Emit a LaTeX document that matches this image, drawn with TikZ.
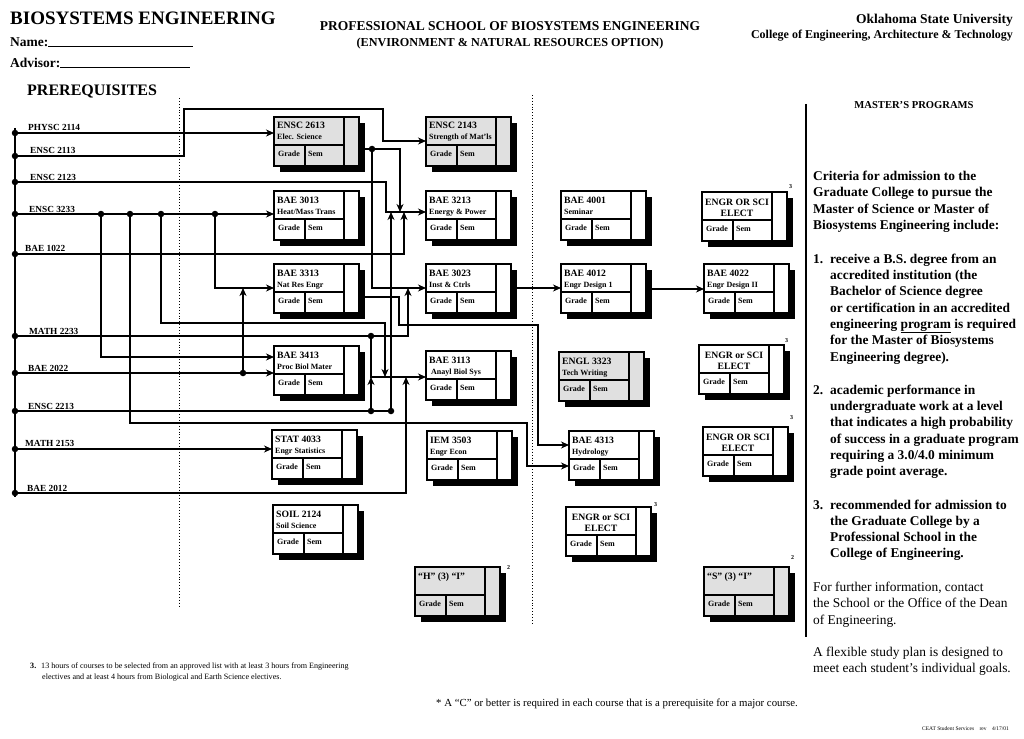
\documentclass[tikz,border=0pt]{standalone}
\usepackage{fontspec}
\setmainfont{Liberation Serif}
\usetikzlibrary{arrows.meta,calc}
\definecolor{boxgray}{gray}{0.88}
\tikzset{
  ln/.style={line width=1.1pt},
  arr/.style={line width=1.1pt,-{Stealth[length=8pt,width=7pt,inset=2.5pt]}},
  dot/.style={circle,fill=black,inner sep=0pt,minimum size=6.5pt,outer sep=0pt},
  cbox/.style={draw,line width=1.2pt,minimum width=85pt,minimum height=49pt,inner sep=0pt,outer sep=0pt},
  inner/.style={line width=1.1pt},
  code/.style={anchor=base west,inner sep=0pt,font=\fontsize{9.7}{11}\selectfont\bfseries},
  subt/.style={anchor=base west,inner sep=0pt,font=\fontsize{8}{9}\selectfont\bfseries},
  lbl/.style={anchor=base west,inner sep=0pt,font=\fontsize{9.3}{11}\selectfont\bfseries},
  rt/.style={anchor=base west,inner sep=0pt,font=\fontsize{13.4}{16}\selectfont\bfseries},
  rr/.style={anchor=base west,inner sep=0pt,font=\fontsize{13.4}{16}\selectfont},
  sup/.style={anchor=base west,inner sep=0pt,font=\fontsize{6}{7}\selectfont\bfseries},
  vdot/.style={line width=0.9pt,dotted}
}
\newcommand\cbFrame[4]{%
  \fill[black] ({#2+6},{#3+6}) rectangle ({#2+91},{#3+55});
  \node[cbox,fill=#4,anchor=north west] (#1) at (#2,#3) {};
  \draw[inner] ({#2+70},#3) -- ({#2+70},{#3+49})
               (#2,{#3+28}) -- ({#2+70},{#3+28})
               ({#2+31},{#3+28}) -- ({#2+31},{#3+49});
  \node[subt] at ({#2+4},{#3+39.5}) {Grade};
  \node[subt] at ({#2+34},{#3+39.5}) {Sem};
}
\newcommand\cbCourse[6]{%
  \cbFrame{#1}{#2}{#3}{#4}
  \node[code] at ({#2+3},{#3+12}) {#5};
  \node[subt] at ({#2+3},{#3+23}) {#6};
}
\newcommand\cbElect[4]{%
  \cbFrame{#1}{#2}{#3}{white}
  \node[code,anchor=base] at ({#2+35},{#3+13}) {#4};
  \node[code,anchor=base] at ({#2+35},{#3+24}) {ELECT};
}
\begin{document}
\begin{tikzpicture}[x=1pt,y=-1pt]
\fill[white] (0,0) rectangle (1024,738);
\useasboundingbox (0,0) rectangle (1024,738);

% ---------- header ----------
\node[anchor=base west,inner sep=0pt,font=\fontsize{19}{22}\selectfont\bfseries] (title) at (10,25) {BIOSYSTEMS ENGINEERING};
\node[anchor=base west,inner sep=0pt,font=\fontsize{13.5}{16}\selectfont\bfseries] (name) at (10,47) {Name:\rule{145pt}{0.9pt}};
\node[anchor=base west,inner sep=0pt,font=\fontsize{13.5}{16}\selectfont\bfseries] (advisor) at (10,68) {Advisor:\rule{130pt}{0.9pt}};
\node[anchor=base west,inner sep=0pt,font=\fontsize{16}{18}\selectfont\bfseries] (prereq) at (27,96) {PREREQUISITES};
\node[anchor=base,inner sep=0pt,font=\fontsize{13.5}{16}\selectfont\bfseries] (school) at (510,31) {PROFESSIONAL SCHOOL OF BIOSYSTEMS ENGINEERING};
\node[anchor=base,inner sep=0pt,font=\fontsize{12.2}{14}\selectfont\bfseries] (option) at (510,47) {(ENVIRONMENT \& NATURAL RESOURCES OPTION)};
\node[anchor=base east,inner sep=0pt,font=\fontsize{13.5}{16}\selectfont\bfseries] (osu) at (1013,24) {Oklahoma State University};
\node[anchor=base east,inner sep=0pt,font=\fontsize{12}{14}\selectfont\bfseries] (ceat) at (1013,39) {College of Engineering, Architecture \& Technology};
\node[anchor=base,inner sep=0pt,font=\fontsize{10.6}{12}\selectfont\bfseries] (masters) at (914,109) {MASTER’S PROGRAMS};

% ---------- separators ----------
\draw[vdot] (179,98) -- (179,608);
\draw[vdot] (532,95) -- (532,625);
\draw[line width=1.5pt] (806,104) -- (806,637);

% ---------- course boxes ----------
\cbCourse{e2613}{274}{117}{boxgray}{ENSC 2613}{Elec. Science}
\cbCourse{e2143}{426}{117}{boxgray}{ENSC 2143}{Strength of Mat’ls}
\cbCourse{b3013}{274}{191}{white}{BAE 3013}{Heat/Mass Trans}
\cbCourse{b3213}{426}{191}{white}{BAE 3213}{Energy \& Power}
\cbCourse{b3313}{274}{264}{white}{BAE 3313}{Nat Res Engr}
\cbCourse{b3023}{426}{264}{white}{BAE 3023}{Inst \& Ctrls}
\cbCourse{b3413}{274}{346}{white}{BAE 3413}{Proc Biol Mater}
\cbCourse{b3113}{426}{351}{white}{BAE 3113}{\ Anayl Biol Sys}
\cbCourse{s4033}{272}{430}{white}{STAT 4033}{Engr Statistics}
\cbCourse{i3503}{427}{431}{white}{IEM 3503}{Engr Econ}
\cbCourse{s2124}{273}{505}{white}{SOIL 2124}{Soil Science}
\cbCourse{hi}{415}{567}{boxgray}{“H” (3) “I”}{}
\cbCourse{b4001}{561}{191}{white}{BAE 4001}{Seminar}
\cbElect{el1}{702}{192}{ENGR OR SCI}
\cbCourse{b4012}{561}{264}{white}{BAE 4012}{Engr Design 1}
\cbCourse{b4022}{704}{264}{white}{BAE 4022}{Engr Design II}
\cbCourse{g3323}{559}{352}{boxgray}{ENGL 3323}{Tech Writing}
\cbElect{el2}{699}{345}{ENGR or SCI}
\cbCourse{b4313}{569}{431}{white}{BAE 4313}{Hydrology}
\cbElect{el3}{703}{427}{ENGR OR SCI}
\cbElect{el4}{566}{507}{ENGR or SCI}
\cbCourse{si}{704}{567}{boxgray}{“S” (3) “I”}{}

\node[sup] at (789,189) {3};
\node[sup] at (785,342) {3};
\node[sup] at (790,419) {3};
\node[sup] at (654,506) {3};
\node[sup] at (507,569) {2};
\node[sup] at (791,559) {2};

% ---------- prerequisite bus ----------
\draw[line width=2pt] (15,128) -- (15,497);
\node[dot] (pPHY) at (15,133) {};
\node[dot] (pE2113) at (15,156) {};
\node[dot] (pE2123) at (15,182) {};
\node[dot] (pE3233) at (15,214) {};
\node[dot] (pB1022) at (15,254) {};
\node[dot] (pM2233) at (15,336) {};
\node[dot] (pB2022) at (15,373) {};
\node[dot] (pE2213) at (15,411) {};
\node[dot] (pM2153) at (15,449) {};
\node[dot] (pB2012) at (15,493) {};

\node[lbl] at (28,131) {PHYSC 2114};
\node[lbl] at (30,154) {ENSC 2113};
\node[lbl] at (30,180) {ENSC 2123};
\node[lbl] at (29,212) {ENSC 3233};
\node[lbl] at (25,251) {BAE 1022};
\node[lbl] at (29,334) {MATH 2233};
\node[lbl] at (28,371) {BAE 2022};
\node[lbl] at (28,409) {ENSC 2213};
\node[lbl] at (25,446) {MATH 2153};
\node[lbl] at (27,491) {BAE 2012};

% ---------- connectors ----------
% PHYSC 2114
\draw[arr] (pPHY.center) -- (pPHY.center -| e2613.west);
% ENSC 2113
\draw[arr] (pE2113.center) -| (184,109) -| (383,141) -- (e2143.west |- 0,141);
% ENSC 2123
\draw[arr] (pE2123.center) -| (386,212) -- (b3213.west |- 0,212);
% ENSC 3233
\draw[arr] (pE3233.center) -- (pE3233.center -| b3013.west);
\node[dot] (d101) at (101,214) {};
\node[dot] (d130) at (130,214) {};
\node[dot] (d161) at (161,214) {};
\node[dot] (d215) at (215,214) {};
\draw[arr] (d215.center) |- (b3313.west |- 0,288);
\draw[arr] (d101.center) |- (b3413.west |- 0,357);
\draw[arr] (d161.center) |- (385,323) -- (385,377);
\draw[arr] (d130.center) |- (527,423) |- (b4313.west |- 0,466);
% BAE 1022
\draw[arr] (pB1022.center) -| (404,212);
% MATH 2233
\draw[arr] (pM2233.center) -| (408,288);
\node[dot] (d371) at (371,336) {};
\draw[arr] (d371.center) |- (b3113.west |- 0,377);
% BAE 2022
\draw[arr] (pB2022.center) -- (pB2022.center -| b3413.west);
\node[dot] (d243) at (243,373) {};
\draw[arr] (d243.center) -- (243,288);
% ENSC 2213
\node[dot] (d371b) at (371,411) {};
\node[dot] (d391) at (391,411) {};
\draw[ln] (pE2213.center) -- (d391.center);
\draw[arr] (d371b.center) -- (371,377);
\draw[arr] (d391.center) -- (391,212);
% MATH 2153
\draw[arr] (pM2153.center) -- (pM2153.center -| s4033.west);
% BAE 2012
\draw[arr] (pB2012.center) -| (406,377);
% ENSC 2613 outputs
\node[dot] (d372) at (372,149) {};
\draw[ln] (e2613.east |- 0,149) -- (d372.center);
\draw[arr] (d372.center) -| (400,212);
\draw[arr] (d372.center) |- (b3023.west |- 0,288);
% BAE 3313 -> BAE 4313
\draw[arr] (b3313.east |- 0,297) -| (399,325) -| (538,445) -- (b4313.west |- 0,445);
% BAE 3023 -> BAE 4012 -> BAE 4022
\draw[arr] (b3023.east |- 0,288) -- (b4012.west |- 0,288);
\draw[arr] (b4012.east |- 0,289) -- (b4022.west |- 0,289);

% ---------- right panel text ----------
\node[rt] at (813,180) {Criteria for admission to the};
\node[rt] at (813,196.5) {Graduate College to pursue the};
\node[rt] at (813,213) {Master of Science or Master of};
\node[rt] at (813,229) {Biosystems Engineering include:};

\node[rt] at (813,263) {1.};
\node[rt] at (830,263) {receive a B.S. degree from an};
\node[rt] at (830,279) {accredited institution (the};
\node[rt] at (830,295.5) {Bachelor of Science degree};
\node[rt] at (830,312) {or certification in an accredited};
\node[rt] at (830,328) {engineering \underline{program} is required};
\node[rt] at (830,344.5) {for the Master of Biosystems};
\node[rt] at (830,361) {Engineering degree).};

\node[rt] at (813,394) {2.};
\node[rt] at (830,394) {academic performance in};
\node[rt] at (830,410) {undergraduate work at a level};
\node[rt] at (830,426.5) {that indicates a high probability};
\node[rt] at (830,443) {of success in a graduate program};
\node[rt] at (830,459) {requiring a 3.0/4.0 minimum};
\node[rt] at (830,475.5) {grade point average.};

\node[rt] at (813,509) {3.};
\node[rt] at (830,509) {recommended for admission to};
\node[rt] at (830,525) {the Graduate College by a};
\node[rt] at (830,541) {Professional School in the};
\node[rt] at (830,557.5) {College of Engineering.};

\node[rr] at (813,591) {For further information, contact};
\node[rr] at (813,607.5) {the School or the Office of the Dean};
\node[rr] at (813,624) {of Engineering.};

\node[rr] at (813,656) {A flexible study plan is designed to};
\node[rr] at (813,672.5) {meet each student’s individual goals.};

% ---------- footnotes ----------
\node[anchor=base west,inner sep=0pt,font=\fontsize{8.1}{9}\selectfont\bfseries] at (30,668) {3.};
\node[anchor=base west,inner sep=0pt,font=\fontsize{8.1}{9}\selectfont] at (41,668) {13 hours of courses to be selected from an approved list with at least 3 hours from Engineering};
\node[anchor=base west,inner sep=0pt,font=\fontsize{8.1}{9}\selectfont] at (42,679) {electives and at least 4 hours from Biological and Earth Science electives.};
\node[anchor=base,inner sep=0pt,font=\fontsize{10.8}{12}\selectfont] at (617,706) {* A “C” or better is required in each course that is a prerequisite for a major course.};
\node[anchor=base west,inner sep=0pt,font=\fontsize{5.5}{6}\selectfont] at (922,730) {CEAT Student Services\quad rev\quad 4/17/01};
\end{tikzpicture}
\end{document}
